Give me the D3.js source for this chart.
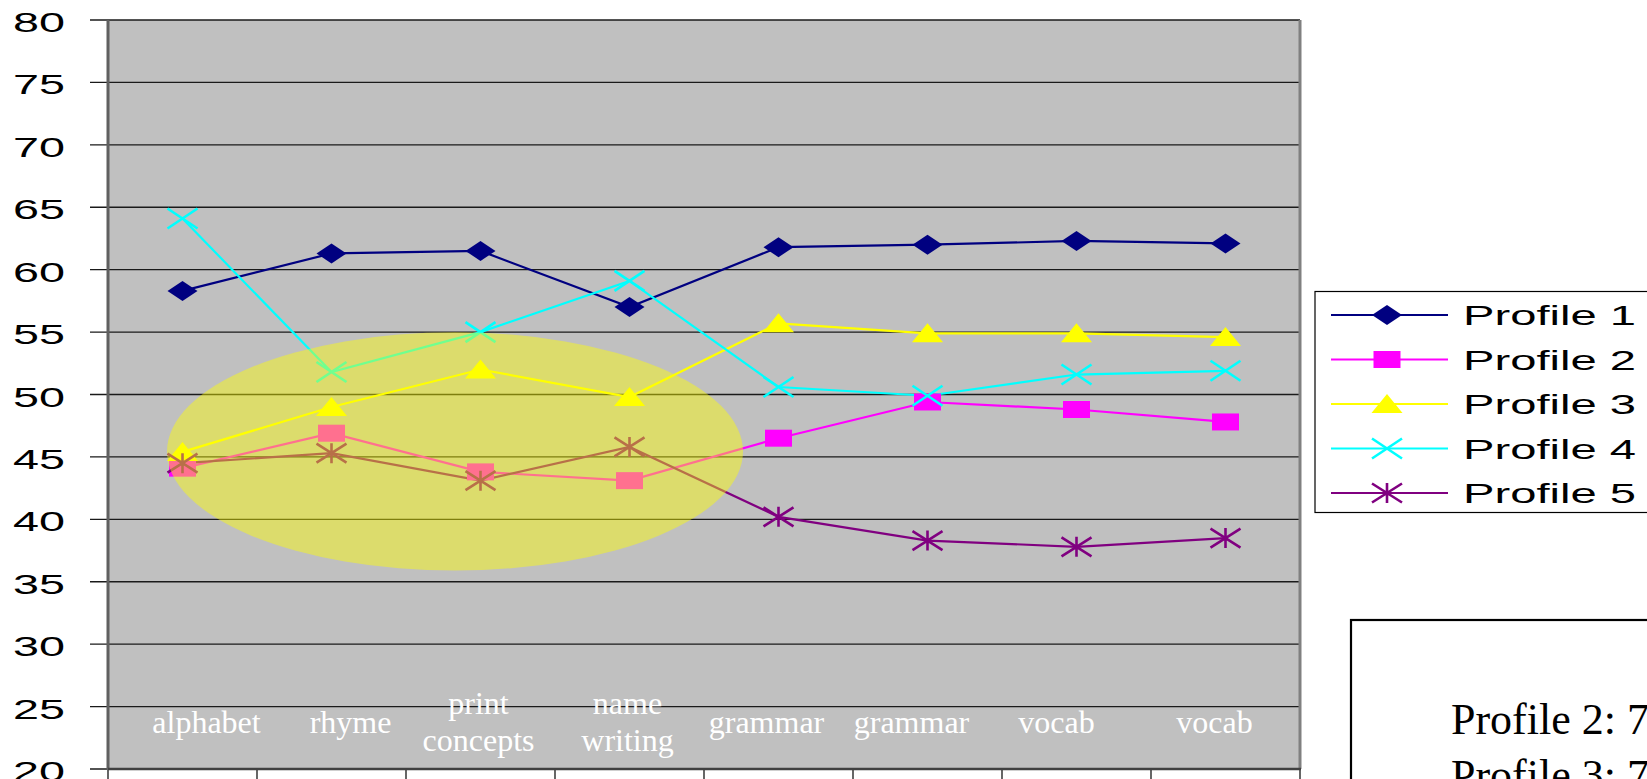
<!DOCTYPE html>
<html>
<head>
<meta charset="utf-8">
<script src="https://cdn.jsdelivr.net/npm/d3@7"></script>
<style>
  html, body { margin: 0; padding: 0; background: #fff; overflow: hidden; }
  svg { display: block; }
</style>
</head>
<body>
<svg id="chart" width="1647" height="779"></svg>
<script>
// ---- data ----
const categories = ["alphabet", "rhyme", "print\nconcepts", "name\nwriting", "grammar", "grammar", "vocab", "vocab"];
const seriesNames = ["Profile 1", "Profile 2", "Profile 3", "Profile 4", "Profile 5"];
const profile1 = [58.3, 61.3, 61.5, 57.0, 61.8, 62.0, 62.3, 62.1];
const profile2 = [44.1, 46.9, 43.8, 43.1, 46.5, 49.4, 48.8, 47.8];
const profile3 = [45.4, 49.0, 52.0, 49.8, 55.7, 54.9, 54.9, 54.6];
const profile4 = [64.1, 51.8, 55.0, 59.1, 50.6, 49.9, 51.6, 51.9];
const profile5 = [44.5, 45.3, 43.1, 45.8, 40.2, 38.3, 37.8, 38.5];
const yTicks = [20, 25, 30, 35, 40, 45, 50, 55, 60, 65, 70, 75, 80];
const noteLines = ["Profile 2: 7%", "Profile 3: 7%"];

// ---- layout / style (kept apart from data) ----
const labelDx = [24, 19, -2, -2, -12, -16, -20, -11];
const colors = ["#000080", "#ff00ff", "#ffff00", "#00ffff", "#800080"];
const shapes = ["diamond", "square", "triangle", "x", "star"];
const allSeries = [profile1, profile2, profile3, profile4, profile5];

const svg = d3.select("#chart");
const L = 108, R = 1300, T = 20, B = 769;

const x = d3.scaleBand().domain(d3.range(categories.length)).range([L, R]).paddingInner(0).paddingOuter(0);
const cx = i => x(i) + x.bandwidth() / 2;
const y = d3.scaleLinear().domain([20, 80]).range([B, T]);

// plot background
svg.append("rect").attr("x", L).attr("y", T).attr("width", R - L).attr("height", B - T).attr("fill", "#c0c0c0");

// gridlines + y ticks
const gy = svg.append("g");
yTicks.forEach(t => {
  gy.append("line").attr("x1", 90).attr("x2", R).attr("y1", y(t)).attr("y2", y(t))
    .attr("stroke", "#1a1a1a").attr("stroke-width", 1.4);
  gy.append("text").attr("x", 13).attr("y", y(t) + 12)
    .attr("font-family", "Liberation Sans, Arial, sans-serif").attr("font-size", 28)
    .attr("textLength", 52).attr("lengthAdjust", "spacingAndGlyphs")
    .attr("fill", "#000").text(t);
});

// x category ticks (below axis)
d3.range(categories.length + 1).forEach(i => {
  const xx = i < categories.length ? x(i) : R;
  svg.append("line").attr("x1", xx).attr("x2", xx).attr("y1", B).attr("y2", 779)
    .attr("stroke", "#000").attr("stroke-width", 1.2);
});

// axes / borders
svg.append("line").attr("x1", L).attr("x2", L).attr("y1", T).attr("y2", B + 1).attr("stroke", "#606060").attr("stroke-width", 3);
svg.append("line").attr("x1", R).attr("x2", R).attr("y1", T).attr("y2", B).attr("stroke", "#808080").attr("stroke-width", 3);
svg.append("line").attr("x1", L).attr("x2", R + 1).attr("y1", B).attr("y2", B).attr("stroke", "#404040").attr("stroke-width", 2.5);

// marker paths (30 x ~18 boxes)
function markerPath(shape) {
  switch (shape) {
    case "diamond": return "M-15,0L0,-10L15,0L0,10Z";
    case "square": return "M-13.5,-8.5H13.5V8.5H-13.5Z";
    case "triangle": return "M0,-10L15.5,9L-15.5,9Z";
    case "x": return "M-15,-10L15,10M-15,10L15,-10";
    case "star": return "M-15,-9.5L15,9.5M-15,9.5L15,-9.5M0,-10V10";
  }
}
function drawMarker(g, shape, color, px, py) {
  const filled = shape === "diamond" || shape === "square" || shape === "triangle";
  const p = g.append("path").attr("d", markerPath(shape)).attr("transform", `translate(${px},${py})`);
  if (filled) p.attr("fill", color).attr("stroke", "none");
  else p.attr("fill", "none").attr("stroke", color).attr("stroke-width", 2.6);
}

// series
const line = d3.line().x((d, i) => cx(i)).y(d => y(d));
const gs = svg.append("g");
allSeries.forEach((vals, s) => {
  gs.append("path").datum(vals).attr("d", line).attr("fill", "none")
    .attr("stroke", colors[s]).attr("stroke-width", 2.2);
});
allSeries.forEach((vals, s) => {
  vals.forEach((v, i) => drawMarker(gs, shapes[s], colors[s], cx(i), y(v)));
});

// highlight ellipse overlay
svg.append("ellipse")
  .attr("cx", (cx(1) + cx(2)) / 2 + 49)
  .attr("cy", y(45.44))
  .attr("rx", 288)
  .attr("ry", y(35.9) - y(45.44))
  .attr("fill", "#ffff00").attr("fill-opacity", 0.44);

// category labels (white, serif)
const gx = svg.append("g");
categories.forEach((c, i) => {
  const parts = c.split("\n");
  const t = gx.append("text").attr("text-anchor", "middle")
    .attr("font-family", "Liberation Serif, 'Times New Roman', serif").attr("font-size", 32)
    .attr("fill", "#ffffff");
  const px = cx(i) + labelDx[i];
  if (parts.length === 1) {
    t.append("tspan").attr("x", px).attr("y", 733).text(parts[0]);
  } else {
    t.append("tspan").attr("x", px).attr("y", 714).text(parts[0]);
    t.append("tspan").attr("x", px).attr("y", 751).text(parts[1]);
  }
});

// legend
const lg = svg.append("g");
lg.append("rect").attr("x", 1315).attr("y", 291.5).attr("width", 400).attr("height", 221)
  .attr("fill", "#fff").attr("stroke", "#000").attr("stroke-width", 1.2);
seriesNames.forEach((n, s) => {
  const ry = 315 + s * 44.5;
  lg.append("line").attr("x1", 1331).attr("x2", 1448).attr("y1", ry).attr("y2", ry)
    .attr("stroke", colors[s]).attr("stroke-width", 2);
  drawMarker(lg, shapes[s], colors[s], 1387, ry);
  lg.append("text").attr("x", 1463).attr("y", ry + 10)
    .attr("font-family", "Liberation Sans, Arial, sans-serif").attr("font-size", 28)
    .attr("textLength", 173).attr("lengthAdjust", "spacingAndGlyphs")
    .attr("fill", "#000").text(n);
});

// note box (cut off at the page edge)
const nb = svg.append("g");
nb.append("rect").attr("x", 1351).attr("y", 620).attr("width", 400).attr("height", 300)
  .attr("fill", "#fff").attr("stroke", "#000").attr("stroke-width", 2.2);
noteLines.forEach((t, i) => {
  nb.append("text").attr("x", 1451).attr("y", 734 + i * 56)
    .attr("font-family", "Liberation Serif, 'Times New Roman', serif").attr("font-size", 44)
    .attr("fill", "#000").text(t);
});
</script>
</body>
</html>
